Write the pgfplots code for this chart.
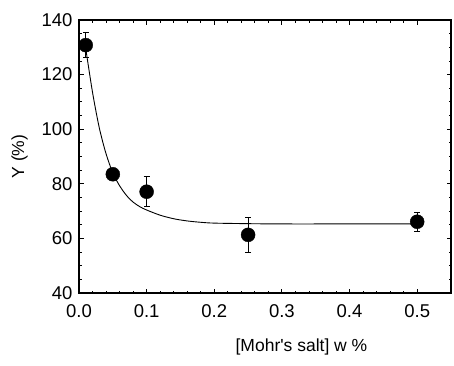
\documentclass[border=0pt]{standalone}
\usepackage{pgfplots}
\pgfplotsset{compat=1.18}
\usepackage{fontspec}
\setmainfont{Liberation Sans}
\begin{document}
\begin{tikzpicture}
\begin{axis}[
  scale only axis,
  width=372pt, height=273pt,
  xmin=0, xmax=0.55, ymin=40, ymax=140,
  xtick={0,0.1,0.2,0.3,0.4,0.5},
  ytick={40,60,80,100,120,140},
  minor x tick num=4, minor y tick num=3,
  tick align=inside,
  major tick length=4.5pt, minor tick length=2.5pt,
  axis line style={line width=1.1pt},
  every tick/.style={black, line width=0.9pt},
  /pgf/number format/assume math mode=true,
  xticklabel style={/pgf/number format/fixed, /pgf/number format/fixed zerofill, /pgf/number format/precision=1},
  xticklabel shift=8.5pt,
  yticklabel shift=3pt,
  tick label style={font=\fontsize{18.5}{22}\selectfont},
  label style={font=\fontsize{17.5}{21}\selectfont},
  xlabel={[Mohr\textquotesingle s salt] w \%},
  ylabel={Y (\%)},
  xlabel style={at={(axis description cs:0.598,-0.198)}, anchor=center},
  ylabel style={at={(axis description cs:-0.160,0.5)}, anchor=center, rotate=0},
  clip=false,
]
\addplot[black, line width=0.9pt, smooth] coordinates {
 (0.01,129.5) (0.02,113.5) (0.03,100.5) (0.04,91.0) (0.05,84.0) (0.06,79.3)
 (0.07,75.8) (0.08,73.3) (0.09,71.6) (0.10,70.4) (0.12,68.5) (0.14,67.2)
 (0.16,66.4) (0.18,65.9) (0.20,65.6) (0.25,65.4) (0.30,65.3) (0.40,65.3) (0.50,65.3)
};
\addplot[only marks, mark=*, mark size=7pt, black,
  error bars/.cd, y dir=both, y explicit,
  error bar style={line width=0.8pt},
  error mark options={rotate=90, mark size=3pt, line width=0.8pt}]
 coordinates {
 (0.01,130.8) +- (0,4.5)
 (0.05,83.5) +- (0,2)
 (0.10,77.1) +- (0,5.5)
 (0.25,61.3) +- (0,6.4)
 (0.50,66.1) +- (0,3.6)
};
\end{axis}
\path ([shift={(-79pt,-72pt)}]current axis.south west) rectangle ([shift={(3pt,20pt)}]current axis.north east);
\end{tikzpicture}
\end{document}
